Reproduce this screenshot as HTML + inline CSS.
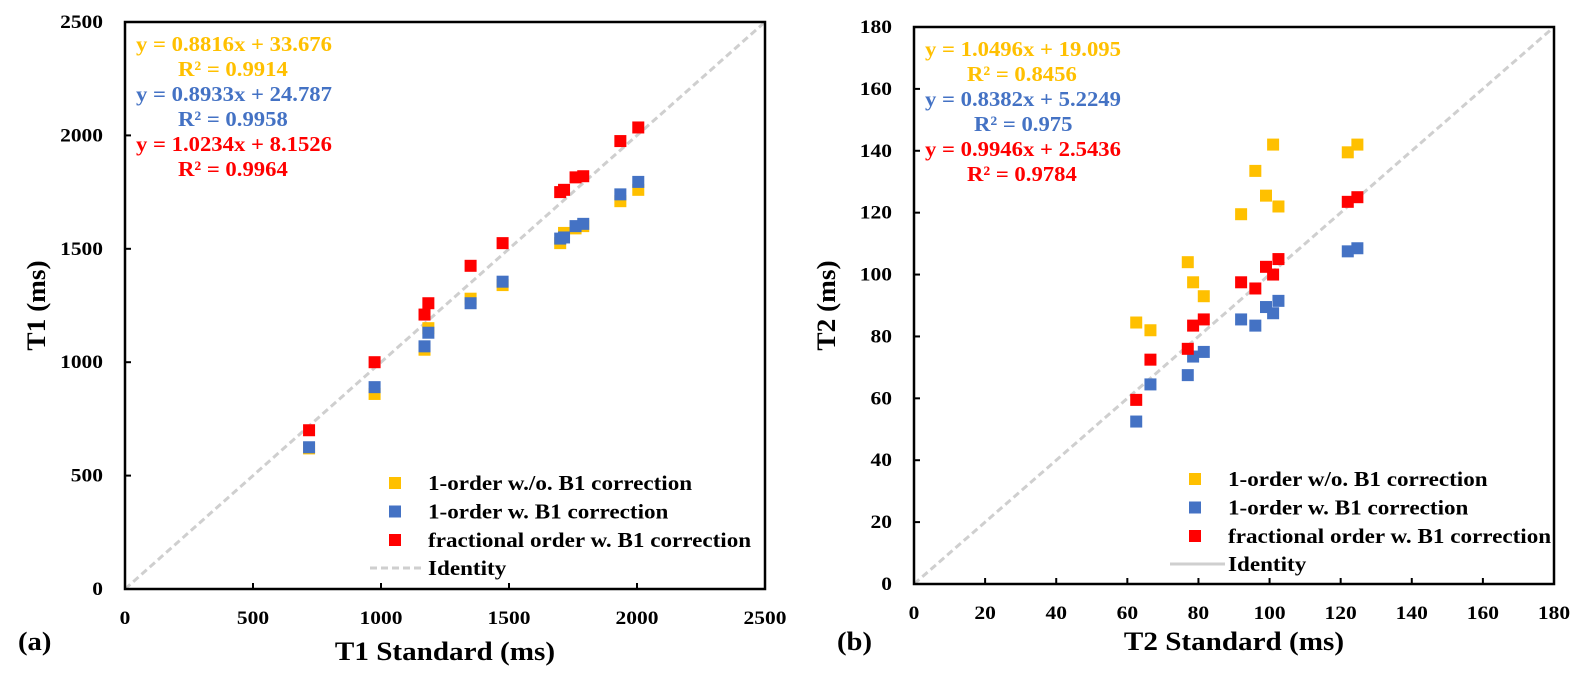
<!DOCTYPE html>
<html><head><meta charset="utf-8">
<style>
body{margin:0;background:#fff;font-family:"Liberation Serif",serif;}
svg text{font-family:"Liberation Serif",serif;}
</style></head>
<body>
<svg id="s" width="1590" height="685"></svg>
<script>
const t1Std=[719,975,1170,1185,1350,1475,1700,1715,1760,1790,1935,2005];
const t1Yellow=[620,860,1055,1150,1280,1340,1525,1570,1590,1600,1710,1760];
const t1Blue=[625,890,1070,1130,1260,1355,1545,1550,1600,1610,1740,1795];
const t1Red=[700,1000,1210,1260,1425,1525,1750,1760,1815,1820,1975,2035];
const t1Ticks=[0,500,1000,1500,2000,2500];
const t2Std=[62.5,66.5,77,78.5,81.5,92,96,99,101,102.5,122,124.7];
const t2Yellow=[84.5,82,104,97.5,93,119.5,133.5,125.5,142,122,139.5,142];
const t2Blue=[52.5,64.5,67.5,73.5,75,85.5,83.5,89.5,87.5,91.5,107.5,108.5];
const t2Red=[59.5,72.5,76,83.5,85.5,97.5,95.5,102.5,100,105,123.5,125];
const t2Ticks=[0,20,40,60,80,100,120,140,160,180];
const NS="http://www.w3.org/2000/svg";
const svg=document.getElementById('s');
function mk(tag,attrs,parent,txt){const e=document.createElementNS(NS,tag);for(const k in attrs)e.setAttribute(k,attrs[k]);if(txt!==undefined)e.textContent=txt;(parent||svg).appendChild(e);return e;}
function stretch(el,f){const w=el.getComputedTextLength();el.setAttribute('textLength',(w*f).toFixed(1));el.setAttribute('lengthAdjust','spacingAndGlyphs');}
function chart(cfg){
  const g=mk('g',{});
  
  
  const X=v=>cfg.x0+(v/cfg.max)*(cfg.x1-cfg.x0);
  const Y=v=>cfg.y0-(v/cfg.max)*(cfg.y0-cfg.y1);
  const id=mk('line',{x1:X(0),y1:Y(0),x2:X(cfg.max),y2:Y(cfg.max),stroke:'#cfcfcf','stroke-width':3,'stroke-dasharray':'7,4'},g);
  
  const fr=mk('rect',{x:cfg.x0,y:cfg.y1,width:cfg.x1-cfg.x0,height:cfg.y0-cfg.y1,fill:'none',stroke:'#000','stroke-width':2.5},g);
  
  cfg.ticks.forEach(t=>{
    const a=mk('text',{x:X(t),y:cfg.y0+35,'text-anchor':'middle','font-size':19,'font-weight':'bold'},g,String(t));
    
    stretch(a,1.13);
    const b=mk('text',{x:cfg.x0-22,y:Y(t)+6,'text-anchor':'end','font-size':19,'font-weight':'bold'},g,String(t));
    
    stretch(b,1.13);
    mk('line',{x1:X(t),y1:cfg.y0,x2:X(t),y2:cfg.y0-6,stroke:'#000','stroke-width':2},g);
    mk('line',{x1:cfg.x0,y1:Y(t),x2:cfg.x0+6,y2:Y(t),stroke:'#000','stroke-width':2},g);
  });
  const series=[[cfg.yel,'#ffc000','series-yellow'],[cfg.blu,'#4472c4','series-blue'],[cfg.red,'#ff0000','series-red']];
  series.forEach(([arr,col,nm])=>{
    const sg=mk('g',{},g);
    
    arr.forEach((v,i)=>{
      const r=mk('rect',{x:X(cfg.std[i])-6,y:Y(v)-6,width:12,height:12,fill:col},sg);
      
      
    });
  });
  const xl=mk('text',{x:(cfg.x0+cfg.x1)/2,y:cfg.titleY,'text-anchor':'middle','font-size':26,'font-weight':'bold'},g,cfg.xlabel);
  
  stretch(xl,1.12);
  const cx=cfg.ytx,cy=(cfg.y0+cfg.y1)/2;
  const yl=mk('text',{x:cx,y:cy,'text-anchor':'middle','font-size':26,'font-weight':'bold',transform:`rotate(-90 ${cx} ${cy})`},g,cfg.ylabel);
  
  stretch(yl,1.05);
  const pl=mk('text',{x:cfg.px,y:650,'font-size':26,'font-weight':'bold'},g,cfg.panel);
  
  stretch(pl,1.1);
  cfg.eqs.forEach((e,i)=>{
    const t=mk('text',{x:cfg.x0+e[2],y:cfg.y1+29+i*25,'font-size':21,'font-weight':'bold',fill:e[1]},g,e[0]);
    
    stretch(t,1.08);
  });
  const lg=mk('g',{},g);
  const leg=[['#ffc000',cfg.leg[0]],['#4472c4',cfg.leg[1]],['#ff0000',cfg.leg[2]]];
  leg.forEach((l,i)=>{
    const yy=cfg.legY+i*28.5;
    mk('rect',{x:cfg.legX-6,y:yy-6,width:12,height:12,fill:l[0]},lg);
    const t=mk('text',{x:cfg.legX+33,y:yy+7,'font-size':21,'font-weight':'bold'},lg,l[1]);
    
    stretch(t,1.1);
  });
  const yy=cfg.legY+85;
  mk('line',{x1:cfg.legX-25,y1:yy,x2:cfg.legX+30,y2:yy,stroke:'#cfcfcf','stroke-width':3,'stroke-dasharray':cfg.dash},lg);
  const t=mk('text',{x:cfg.legX+33,y:yy+7,'font-size':21,'font-weight':'bold'},lg,'Identity');
  
  stretch(t,1.1);
}
chart({name:'chart-t1',x0:125,x1:765,y0:589,y1:22,max:2500,ticks:t1Ticks,std:t1Std,yel:t1Yellow,blu:t1Blue,red:t1Red,
 xlabel:'T1 Standard (ms)',ylabel:'T1 (ms)',panel:'(a)',titleY:660,ytx:45,px:18,
 eqs:[['y = 0.8816x + 33.676','#ffc000',11],['R² = 0.9914','#ffc000',53],['y = 0.8933x + 24.787','#4472c4',11],['R² = 0.9958','#4472c4',53],['y = 1.0234x + 8.1526','#ff0000',11],['R² = 0.9964','#ff0000',53]],
 leg:['1-order w./o. B1 correction','1-order w. B1 correction','fractional order w. B1 correction'],legX:395,legY:483,dash:'7,4'});
chart({name:'chart-t2',x0:914,x1:1554,y0:584,y1:27,max:180,ticks:t2Ticks,std:t2Std,yel:t2Yellow,blu:t2Blue,red:t2Red,
 xlabel:'T2 Standard (ms)',ylabel:'T2 (ms)',panel:'(b)',titleY:650,ytx:835,px:837,
 eqs:[['y = 1.0496x + 19.095','#ffc000',11],['R² = 0.8456','#ffc000',53],['y = 0.8382x + 5.2249','#4472c4',11],['R² = 0.975','#4472c4',60],['y = 0.9946x + 2.5436','#ff0000',11],['R² = 0.9784','#ff0000',53]],
 leg:['1-order w/o. B1 correction','1-order w. B1 correction','fractional order w. B1 correction'],legX:1195,legY:479,dash:'none'});
</script>
</body></html>
